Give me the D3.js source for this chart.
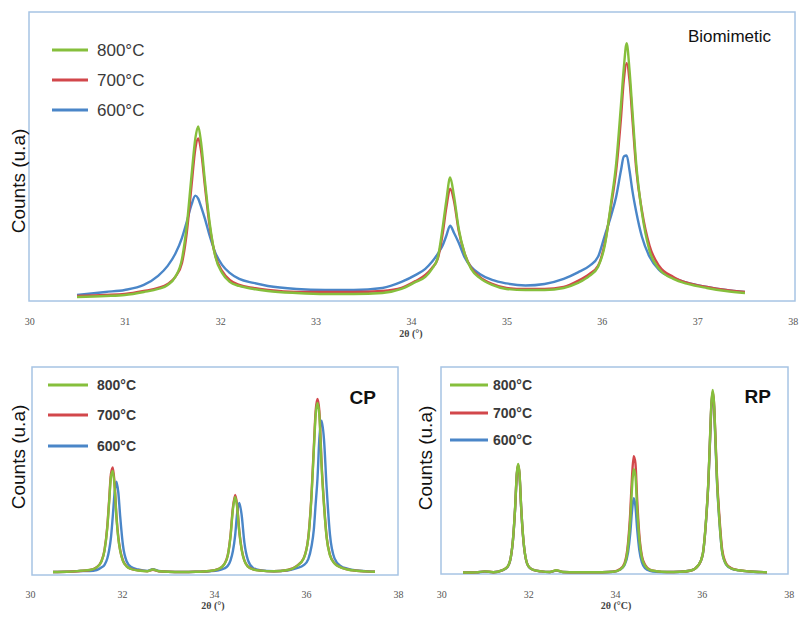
<!DOCTYPE html>
<html>
<head>
<meta charset="utf-8">
<script src="https://cdn.jsdelivr.net/npm/d3@7"></script>
<style>
  body { margin: 0; background: #fff; }
  svg { display: block; }
</style>
</head>
<body>
<div id="chart"></div>
<script>
// series labels and ticks
const legendLabels = ["800°C", "700°C", "600°C"];
const seriesColors = ["#86bf3c", "#d2474b", "#4a86c8"];
const bioTicks = [30, 31, 32, 33, 34, 35, 36, 37, 38];
const smallTicks = [30, 32, 34, 36, 38];

// Biomimetic (top) - 2theta and counts
const bioTheta = [30.5, 30.8, 31.0, 31.2, 31.35, 31.45, 31.53, 31.6, 31.65, 31.7, 31.74, 31.77, 31.8, 31.84, 31.89, 31.95, 32.02, 32.1, 32.2, 32.35, 32.5, 32.8, 33.1, 33.4, 33.7, 33.9, 34.05, 34.15, 34.22, 34.28, 34.33, 34.37, 34.41, 34.45, 34.5, 34.56, 34.63, 34.72, 34.85, 35.0, 35.2, 35.4, 35.6, 35.75, 35.87, 35.96, 36.03, 36.1, 36.15, 36.2, 36.23, 36.26, 36.29, 36.32, 36.36, 36.42, 36.5, 36.6, 36.75, 36.9, 37.1, 37.3, 37.5];
const bio800 = [40, 50, 60, 90, 120, 160, 240, 420, 750, 1250, 1620, 1740, 1580, 1200, 780, 440, 280, 190, 150, 120, 100, 80, 70, 70, 80, 120, 190, 240, 320, 430, 720, 1000, 1230, 1050, 720, 480, 320, 230, 160, 120, 110, 110, 130, 180, 250, 340, 550, 1000, 1370, 1950, 2320, 2570, 2300, 1900, 1370, 880, 500, 320, 220, 170, 130, 100, 80];
const bio700 = [50, 60, 70, 100, 130, 170, 240, 380, 680, 1150, 1520, 1620, 1500, 1150, 750, 450, 300, 210, 160, 130, 110, 90, 90, 90, 100, 130, 200, 260, 330, 420, 660, 930, 1120, 1000, 700, 480, 330, 240, 170, 130, 120, 120, 140, 200, 270, 350, 570, 970, 1300, 1820, 2200, 2370, 2200, 1820, 1320, 900, 550, 350, 240, 180, 140, 110, 90];
const bio600 = [60, 90, 110, 160, 250, 350, 470, 630, 790, 960, 1050, 1020, 940, 820, 650, 480, 360, 280, 220, 180, 150, 120, 110, 110, 130, 190, 260, 320, 390, 470, 550, 650, 750, 680, 580, 440, 340, 270, 210, 175, 155, 170, 220, 285, 350, 440, 650, 860, 1040, 1300, 1440, 1450, 1300, 1100, 890, 640, 440, 310, 230, 180, 140, 110, 90];

// CP (bottom left)
const cpTheta = [30.5, 30.8, 31.1, 31.3, 31.45, 31.55, 31.62, 31.68, 31.72, 31.76, 31.8, 31.84, 31.88, 31.92, 31.96, 32.02, 32.1, 32.2, 32.35, 32.55, 32.67, 32.8, 33.0, 33.3, 33.6, 33.9, 34.1, 34.22, 34.3, 34.36, 34.41, 34.46, 34.5, 34.55, 34.6, 34.66, 34.74, 34.85, 35.0, 35.3, 35.6, 35.8, 35.95, 36.05, 36.12, 36.17, 36.21, 36.25, 36.29, 36.34, 36.39, 36.45, 36.52, 36.62, 36.75, 36.9, 37.1, 37.3, 37.5];
const cp800 = [30, 32, 42, 50, 76, 132, 244, 470, 724, 980, 1040, 877, 570, 367, 244, 142, 86, 60, 45, 38, 55, 38, 32, 30, 32, 40, 60, 105, 195, 390, 652, 780, 690, 428, 255, 143, 83, 56, 44, 38, 50, 89, 165, 368, 790, 1247, 1602, 1720, 1602, 1078, 706, 368, 199, 115, 77, 55, 42, 36, 32];
const cp700 = [30, 32, 40, 50, 78, 135, 250, 483, 745, 1010, 1075, 902, 585, 377, 250, 145, 88, 61, 46, 38, 52, 38, 32, 30, 32, 40, 61, 107, 199, 400, 669, 800, 708, 438, 261, 146, 84, 57, 44, 38, 50, 91, 168, 376, 808, 1276, 1639, 1760, 1639, 1103, 722, 376, 203, 117, 78, 56, 42, 36, 32];
const cp600 = [30, 32, 40, 40, 50, 75, 102, 165, 247, 373, 590, 825, 933, 825, 590, 300, 138, 80, 55, 41, 58, 40, 32, 30, 32, 38, 47, 65, 92, 147, 237, 396, 603, 720, 603, 327, 147, 71, 47, 38, 45, 68, 98, 159, 287, 454, 711, 968, 1361, 1543, 1361, 862, 408, 166, 91, 63, 45, 38, 32];

// RP (bottom right)
const rpTheta = [30.5, 30.8, 31.0, 31.2, 31.4, 31.52, 31.6, 31.66, 31.7, 31.74, 31.77, 31.8, 31.84, 31.88, 31.94, 32.02, 32.12, 32.3, 32.5, 32.65, 32.8, 33.1, 33.4, 33.7, 33.95, 34.12, 34.22, 34.3, 34.35, 34.39, 34.43, 34.47, 34.51, 34.56, 34.62, 34.7, 34.8, 34.95, 35.2, 35.5, 35.75, 35.92, 36.02, 36.1, 36.15, 36.19, 36.22, 36.25, 36.28, 36.31, 36.35, 36.4, 36.47, 36.56, 36.68, 36.85, 37.1, 37.3, 37.5];
const rp800 = [15, 16, 26, 18, 37, 69, 167, 395, 666, 1013, 1100, 1013, 666, 395, 167, 69, 42, 26, 20, 38, 20, 17, 17, 18, 22, 46, 98, 276, 536, 849, 1047, 984, 661, 348, 161, 78, 41, 28, 20, 22, 35, 88, 198, 563, 928, 1384, 1712, 1840, 1712, 1384, 928, 563, 216, 97, 55, 37, 25, 20, 18];
const rp700 = [15, 16, 26, 18, 37, 69, 166, 391, 660, 1004, 1090, 1004, 660, 391, 166, 69, 42, 26, 20, 36, 20, 17, 17, 18, 22, 50, 109, 309, 603, 955, 1178, 1108, 744, 391, 180, 86, 44, 29, 20, 22, 35, 87, 196, 557, 918, 1369, 1694, 1820, 1710, 1400, 960, 600, 240, 105, 58, 38, 25, 20, 18];
const rp600 = [15, 16, 24, 18, 36, 68, 164, 388, 654, 995, 1080, 995, 654, 388, 164, 68, 42, 26, 20, 34, 20, 17, 17, 18, 22, 45, 90, 215, 400, 620, 757, 680, 450, 240, 115, 55, 32, 22, 20, 22, 35, 86, 194, 550, 908, 1354, 1675, 1800, 1675, 1354, 908, 550, 211, 95, 54, 36, 25, 20, 18];

const width = 803, height = 618;
const svg = d3.select("#chart").append("svg")
  .attr("width", width)
  .attr("height", height)
  .style("font-family", "'Liberation Sans', Arial, sans-serif");

const panels = [
  {
    theta: bioTheta, series: [bio800, bio700, bio600], ticks: bioTicks,
    frame: [29, 12, 795, 301], xr: [29.3, 792.7], yMax: 2880,
    tickY: 321, xTitle: "2θ (°)", xTitleX: 411, xTitleY: 337,
    yLabelX: 18, yLabelY: 181,
    title: "Biomimetic", titleX: 771, titleY: 42, titleSize: 17, titleWeight: "normal",
    leg: { x1: 52, x2: 88, tx: 97, ys: [50, 80, 110], size: 17, weight: "normal" }
  },
  {
    theta: cpTheta, series: [cp800, cp700, cp600], ticks: smallTicks,
    frame: [32, 367, 398, 575], xr: [30, 398], yMax: 2080,
    tickY: 594, xTitle: "2θ (°)", xTitleX: 213, xTitleY: 609,
    yLabelX: 18, yLabelY: 457,
    title: "CP", titleX: 376, titleY: 404, titleSize: 19, titleWeight: "bold",
    leg: { x1: 48, x2: 88, tx: 97, ys: [385, 415, 446], size: 14, weight: "bold" }
  },
  {
    theta: rpTheta, series: [rp800, rp700, rp600], ticks: smallTicks,
    frame: [441, 367, 788, 574], xr: [441.3, 788.7], yMax: 2070,
    tickY: 594, xTitle: "2θ (°C)", xTitleX: 616, xTitleY: 609,
    yLabelX: 425, yLabelY: 458,
    title: "RP", titleX: 771, titleY: 403, titleSize: 19, titleWeight: "bold",
    leg: { x1: 450, x2: 488, tx: 493, ys: [385, 413, 440], size: 14, weight: "bold" }
  }
];

panels.forEach(p => drawPanel(p));

function drawPanel(p) {
  const [fx0, fy0, fx1, fy1] = p.frame;
  const x = d3.scaleLinear().domain([30, 38]).range(p.xr);
  const y = d3.scaleLinear().domain([0, p.yMax]).range([fy1, fy0]);

  const g = svg.append("g");

  // plot frame
  g.append("rect")
    .attr("x", fx0).attr("y", fy0)
    .attr("width", fx1 - fx0).attr("height", fy1 - fy0)
    .attr("fill", "none")
    .attr("stroke", "#a7c4e4")
    .attr("stroke-width", 1.5);

  // x tick labels (no tick lines in the original)
  const axis = g.append("g")
    .attr("transform", "translate(0," + p.tickY + ")")
    .call(d3.axisBottom(x).tickValues(p.ticks).tickSize(0).tickPadding(0).tickFormat(d3.format("d")));
  axis.select(".domain").remove();
  axis.selectAll("text")
    .attr("font-family", "'Liberation Serif', serif")
    .attr("font-size", 10)
    .attr("fill", "#555")
    .attr("dy", "0.35em");

  g.append("text")
    .attr("x", p.xTitleX).attr("y", p.xTitleY)
    .attr("text-anchor", "middle")
    .attr("font-family", "'Liberation Serif', serif")
    .attr("font-size", 10)
    .attr("font-weight", "bold")
    .attr("fill", "#444")
    .text(p.xTitle);

  g.append("text")
    .attr("transform", "translate(" + p.yLabelX + "," + p.yLabelY + ") rotate(-90)")
    .attr("text-anchor", "middle")
    .attr("dy", "0.35em")
    .attr("font-size", 19)
    .attr("fill", "#111")
    .text("Counts (u.a)");

  const line = d3.line()
    .x((d, i) => x(p.theta[i]))
    .y(d => y(d))
    .curve(d3.curveMonotoneX);

  // draw 600, 700, then 800 on top
  [2, 1, 0].forEach(k => {
    g.append("path")
      .datum(p.series[k])
      .attr("d", line)
      .attr("fill", "none")
      .attr("stroke", seriesColors[k])
      .attr("stroke-width", 2.4)
      .attr("stroke-linejoin", "round");
  });

  // legend
  legendLabels.forEach((lab, k) => {
    g.append("line")
      .attr("x1", p.leg.x1).attr("x2", p.leg.x2)
      .attr("y1", p.leg.ys[k]).attr("y2", p.leg.ys[k])
      .attr("stroke", seriesColors[k])
      .attr("stroke-width", 3);
    g.append("text")
      .attr("x", p.leg.tx).attr("y", p.leg.ys[k])
      .attr("dy", "0.35em")
      .attr("font-size", p.leg.size)
      .attr("font-weight", p.leg.weight)
      .attr("fill", "#3a3a3a")
      .text(lab);
  });

  g.append("text")
    .attr("x", p.titleX).attr("y", p.titleY)
    .attr("text-anchor", "end")
    .attr("font-size", p.titleSize)
    .attr("font-weight", p.titleWeight)
    .attr("fill", "#111")
    .text(p.title);
}
</script>
</body>
</html>
